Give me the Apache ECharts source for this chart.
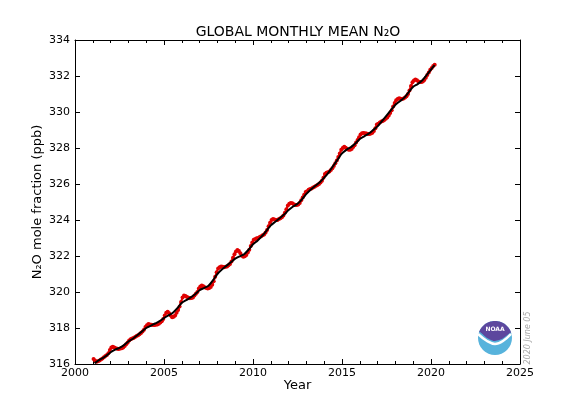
<!DOCTYPE html>
<html>
<head>
<meta charset="utf-8">
<script src="https://cdn.jsdelivr.net/npm/echarts@6/dist/echarts.min.js"></script>
<style>
html, body { margin: 0; padding: 0; background: #fff; }
#main { width: 565px; height: 397px; }
</style>
</head>
<body>
<div id="main"></div>
<script>
// global monthly mean N2O (ppb)
var years = [2001, 2002, 2003, 2004, 2005, 2006, 2007, 2008, 2009, 2010,
    2011, 2012, 2013, 2014, 2015, 2016, 2017, 2018, 2019, 2020];

var m2001 = [316.28, 316.20, 316.13, 316.15, 316.20, 316.25, 316.30, 316.38, 316.45, 316.50, 316.60, 316.78];
var m2002 = [316.92, 316.96, 316.92, 316.88, 316.85, 316.84, 316.86, 316.88, 316.92, 317.00, 317.10, 317.20];
var m2003 = [317.30, 317.38, 317.42, 317.45, 317.50, 317.55, 317.60, 317.65, 317.72, 317.80, 317.90, 318.05];
var m2004 = [318.15, 318.22, 318.20, 318.18, 318.16, 318.16, 318.18, 318.20, 318.24, 318.30, 318.38, 318.50];
var m2005 = [318.70, 318.85, 318.90, 318.82, 318.70, 318.60, 318.62, 318.70, 318.85, 319.00, 319.20, 319.45];
var m2006 = [319.70, 319.80, 319.78, 319.72, 319.68, 319.65, 319.66, 319.70, 319.80, 319.90, 320.00, 320.20];
var m2007 = [320.30, 320.36, 320.32, 320.26, 320.22, 320.20, 320.22, 320.28, 320.40, 320.60, 320.85, 321.10];
var m2008 = [321.30, 321.38, 321.42, 321.40, 321.38, 321.40, 321.42, 321.48, 321.56, 321.70, 321.90, 322.10];
var m2009 = [322.25, 322.33, 322.28, 322.15, 322.02, 321.96, 321.98, 322.05, 322.20, 322.35, 322.55, 322.75];
var m2010 = [322.90, 322.95, 322.98, 323.00, 323.05, 323.10, 323.15, 323.20, 323.30, 323.45, 323.65, 323.85];
var m2011 = [324.00, 324.05, 324.03, 324.00, 324.00, 324.05, 324.10, 324.15, 324.25, 324.40, 324.60, 324.80];
var m2012 = [324.90, 324.95, 324.93, 324.88, 324.84, 324.83, 324.86, 324.95, 325.10, 325.25, 325.40, 325.55];
var m2013 = [325.60, 325.68, 325.72, 325.75, 325.80, 325.85, 325.90, 325.95, 326.00, 326.08, 326.18, 326.35];
var m2014 = [326.55, 326.62, 326.65, 326.70, 326.78, 326.88, 327.00, 327.15, 327.30, 327.50, 327.70, 327.90];
var m2015 = [328.00, 328.07, 328.02, 327.95, 327.90, 327.90, 327.95, 328.05, 328.15, 328.30, 328.45, 328.60];
var m2016 = [328.75, 328.82, 328.84, 328.82, 328.80, 328.78, 328.78, 328.80, 328.85, 328.95, 329.10, 329.30];
var m2017 = [329.35, 329.42, 329.47, 329.50, 329.55, 329.62, 329.70, 329.80, 329.95, 330.10, 330.30, 330.50];
var m2018 = [330.65, 330.72, 330.76, 330.74, 330.72, 330.75, 330.80, 330.88, 331.00, 331.20, 331.45, 331.65];
var m2019 = [331.75, 331.80, 331.76, 331.70, 331.66, 331.66, 331.70, 331.78, 331.90, 332.05, 332.20, 332.35];
var m2020 = [332.45, 332.55, 332.62];

var monthly = [m2001, m2002, m2003, m2004, m2005, m2006, m2007, m2008, m2009, m2010,
    m2011, m2012, m2013, m2014, m2015, m2016, m2017, m2018, m2019, m2020];

// deseasonalized trend, 4 points a year (Jan, Apr, Jul, Oct)
var trendValues = [
    316.05, 316.15, 316.30, 316.45,
    316.65, 316.80, 316.90, 317.05,
    317.25, 317.40, 317.60, 317.80,
    318.00, 318.12, 318.25, 318.38,
    318.55, 318.70, 318.85, 319.10,
    319.40, 319.55, 319.70, 319.88,
    320.10, 320.22, 320.35, 320.65,
    321.00, 321.25, 321.45, 321.65,
    321.85, 321.98, 322.10, 322.35,
    322.65, 322.85, 323.10, 323.40,
    323.70, 323.90, 324.10, 324.30,
    324.55, 324.75, 324.90, 325.15,
    325.45, 325.70, 325.90, 326.10,
    326.35, 326.65, 327.00, 327.35,
    327.70, 327.90, 328.05, 328.25,
    328.50, 328.65, 328.80, 329.00,
    329.20, 329.50, 329.80, 330.10,
    330.40, 330.60, 330.80, 331.10,
    331.40, 331.55, 331.75, 332.05,
    332.35
];
var trendStartYear = 2001.1;
var trendEnd = [2020.2, 332.60];

var xTicks = [2000, 2025, 5];
var yTicks = [316, 334, 2];

var redData = [];
for (var i = 0; i < years.length; i++) {
    for (var m = 0; m < monthly[i].length; m++) {
        redData.push([years[i] + (m + 0.5) / 12, monthly[i][m]]);
    }
}
var trendData = [];
for (var k = 0; k < trendValues.length; k++) {
    var t = k === 0 ? trendStartYear : 2001 + k * 0.25;
    trendData.push([t, trendValues[k]]);
}
trendData.push(trendEnd);

var myChart = echarts.init(document.getElementById('main'));

var font = 'DejaVu Sans';
var tickCommon = { show: true, inside: true, length: 5, lineStyle: { color: '#000', width: 1 } };
var minorCommon = { show: true, splitNumber: 5, length: 3, lineStyle: { color: '#000', width: 1 } };

function xAxisDef(pos, showLabel) {
    return {
        type: 'value', position: pos,
        min: xTicks[0], max: xTicks[1], interval: xTicks[2],
        name: pos === 'bottom' ? 'Year' : '',
        nameLocation: 'middle', nameGap: 15, nameMoveOverlap: false,
        nameTextStyle: { fontFamily: font, fontSize: 13, color: '#000' },
        axisLine: { show: true, onZero: false, lineStyle: { color: '#000', width: 1 } },
        axisTick: tickCommon,
        minorTick: minorCommon,
        axisLabel: {
            show: showLabel, fontFamily: font, fontSize: 11, color: '#000', margin: 4,
            formatter: function (v) { return String(v); }
        },
        splitLine: { show: false }
    };
}
function yAxisDef(pos, showLabel) {
    return {
        type: 'value', position: pos,
        min: yTicks[0], max: yTicks[1], interval: yTicks[2],
        name: pos === 'left' ? 'N\u2082O mole fraction (ppb)' : '',
        nameLocation: 'middle', nameGap: 31, nameMoveOverlap: false,
        nameTextStyle: { fontFamily: font, fontSize: 13, color: '#000' },
        axisLine: { show: true, onZero: false, lineStyle: { color: '#000', width: 1 } },
        axisTick: tickCommon,
        axisLabel: {
            show: showLabel, fontFamily: font, fontSize: 11, color: '#000', margin: 5,
            formatter: function (v) { return String(v); }
        },
        splitLine: { show: false }
    };
}

var lcx = 495, lcy = 338, lr = 17;
var purplePts = [];
for (var a = 200; a <= 340; a += 10) {
    var rad = a * Math.PI / 180;
    purplePts.push([lcx + lr * Math.cos(rad), lcy + lr * Math.sin(rad)]);
}
purplePts.push([lcx + 15, lcy - 5], [lcx + 7, lcy + 1], [lcx - 1, lcy + 3], [lcx - 8, lcy], [lcx - 15, lcy - 6]);

var option = {
    animation: false,
    backgroundColor: '#fff',
    title: {
        text: 'GLOBAL MONTHLY MEAN N\u2082O',
        left: 293, top: 20, textAlign: 'center',
        textStyle: { fontFamily: font, fontSize: 14, fontWeight: 'normal', color: '#000' }
    },
    grid: { left: 75, right: 45, top: 40, bottom: 33, containLabel: false, outerBoundsMode: 'none' },
    xAxis: [xAxisDef('bottom', true), xAxisDef('top', false)],
    yAxis: [yAxisDef('left', true), yAxisDef('right', false)],
    series: [{
        name: 'monthly',
        type: 'line',
        data: redData,
        symbol: 'circle',
        symbolSize: 4,
        itemStyle: { color: '#e00000' },
        lineStyle: { color: '#e00000', width: 2 },
        z: 2
    }, {
        name: 'trend',
        type: 'line',
        data: trendData,
        smooth: 0.3,
        showSymbol: false,
        lineStyle: { color: '#000', width: 2 },
        z: 3
    }],
    graphic: [
        { type: 'circle', shape: { cx: lcx, cy: lcy, r: lr }, style: { fill: '#57b3dc' }, z: 10 },
        { type: 'polygon', shape: { points: purplePts, smooth: 0.2 }, style: { fill: '#5d479e' }, z: 11 },
        { type: 'polyline', shape: { points: [[lcx - 17, lcy - 4], [lcx - 8, lcy + 3], [lcx, lcy + 6], [lcx + 8, lcy + 3], [lcx + 16, lcy - 4]], smooth: 0.4 },
          style: { stroke: '#fff', lineWidth: 2.5, fill: null }, z: 12 },
        { type: 'text', x: lcx, y: lcy - 9, style: { text: 'NOAA', fill: '#fff', font: 'bold 6px "DejaVu Sans"', align: 'center', verticalAlign: 'middle' }, z: 13 },
        { type: 'text', x: 528, y: 338, rotation: Math.PI / 2,
          style: { text: '2020 June 05', fill: '#a8a8a8', font: 'italic 8px "DejaVu Sans"', align: 'center', verticalAlign: 'middle' }, z: 13 }
    ]
};
myChart.setOption(option);
</script>
</body>
</html>
